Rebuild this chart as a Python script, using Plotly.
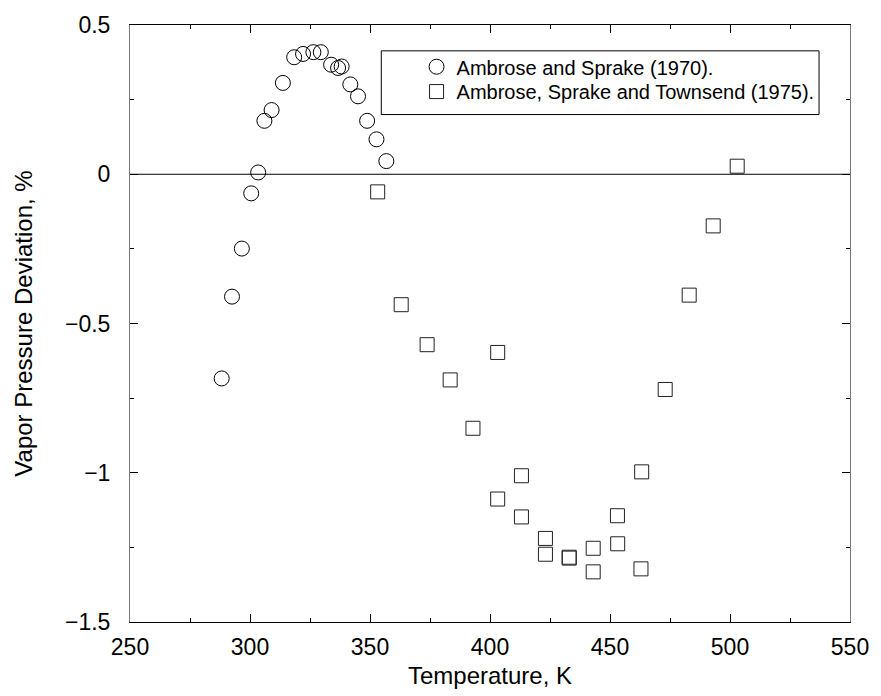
import plotly.graph_objects as go

# Ambrose and Sprake (1970)
t_1970 = [288.2, 292.5, 296.6, 300.5, 303.4, 306.0, 309.0, 313.7, 318.4, 322.1,
          326.4, 329.5, 333.8, 336.7, 338.2, 341.8, 345.0, 348.8, 352.7, 356.8]
d_1970 = [-0.684, -0.410, -0.249, -0.064, 0.006, 0.179, 0.215, 0.306, 0.392, 0.403,
          0.409, 0.409, 0.367, 0.356, 0.361, 0.301, 0.261, 0.179, 0.117, 0.044]

# Ambrose, Sprake and Townsend (1975)
t_1975 = [353.2, 363.0, 373.8, 383.4, 392.9, 403.2, 403.2, 413.1, 413.1, 423.1,
          423.1, 433.0, 433.0, 443.0, 443.0, 453.1, 453.2, 462.9, 463.2, 473.0,
          483.0, 493.0, 503.0]
d_1975 = [-0.059, -0.437, -0.571, -0.689, -0.851, -0.597, -1.088, -1.010, -1.148, -1.220,
          -1.273, -1.283, -1.286, -1.253, -1.332, -1.144, -1.238, -1.322, -0.997, -0.721,
          -0.405, -0.173, 0.027]

x_ticks = [250, 300, 350, 400, 450, 500, 550]
y_ticks = [0.5, 0, -0.5, -1, -1.5]

FONT = "Liberation Sans, Arial, sans-serif"

fig = go.Figure()
fig.add_trace(go.Scatter(
    x=t_1970, y=d_1970, mode="markers", name="Ambrose and Sprake (1970).",
    marker=dict(symbol="circle-open", size=15, color="black", line=dict(width=1, color="black")),
    legend="legend",
))
fig.add_trace(go.Scatter(
    x=t_1975, y=d_1975, mode="markers", name="Ambrose, Sprake and Townsend (1975).",
    marker=dict(symbol="square-open", size=14, color="#222", line=dict(width=1, color="#222")),
    legend="legend2",
))

fig.add_shape(type="line", xref="paper", x0=0, x1=1, yref="y", y0=0, y1=0,
              line=dict(color="black", width=1))
fig.add_shape(type="rect", xref="paper", yref="paper", x0=0.349, x1=0.957, y0=0.850, y1=0.9567,
              line=dict(color="black", width=1), fillcolor="rgba(0,0,0,0)")

legend_common = dict(xanchor="left", yanchor="middle", bgcolor="rgba(0,0,0,0)", borderwidth=0,
                     font=dict(family=FONT, size=20, color="black"), itemwidth=30)

fig.update_layout(
    width=881, height=696,
    margin=dict(l=130, r=26, t=23, b=72),
    paper_bgcolor="white", plot_bgcolor="white",
    font=dict(family=FONT, color="black", size=23),
    showlegend=True,
    legend=dict(x=0.398, y=0.9301, **legend_common),
    legend2=dict(x=0.398, y=0.8885, **legend_common),
)
fig.update_xaxes(
    range=[250, 550], tickvals=x_ticks, ticktext=[str(v) for v in x_ticks],
    ticks="inside", ticklen=8, tickcolor="black", showline=True, linecolor="black",
    linewidth=1, mirror="ticks", showgrid=False, zeroline=False,
    minor=dict(dtick=25, ticks="inside", ticklen=4, tickcolor="black", showgrid=False),
    title=dict(text="Temperature, K", font=dict(size=24), standoff=8),
    tickfont=dict(size=23), ticklabelstandoff=4,
)
fig.update_yaxes(
    range=[-1.5, 0.5], tickvals=y_ticks,
    ticks="inside", ticklen=8, tickcolor="black", showline=True, linecolor="#777",
    linewidth=1, mirror="ticks", showgrid=False, zeroline=False,
    minor=dict(dtick=0.25, ticks="inside", ticklen=4, tickcolor="black", showgrid=False),
    title=dict(text="Vapor Pressure Deviation, %", font=dict(size=24), standoff=25),
    tickfont=dict(size=23), ticklabelstandoff=14,
)

fig.write_html("out.html")
